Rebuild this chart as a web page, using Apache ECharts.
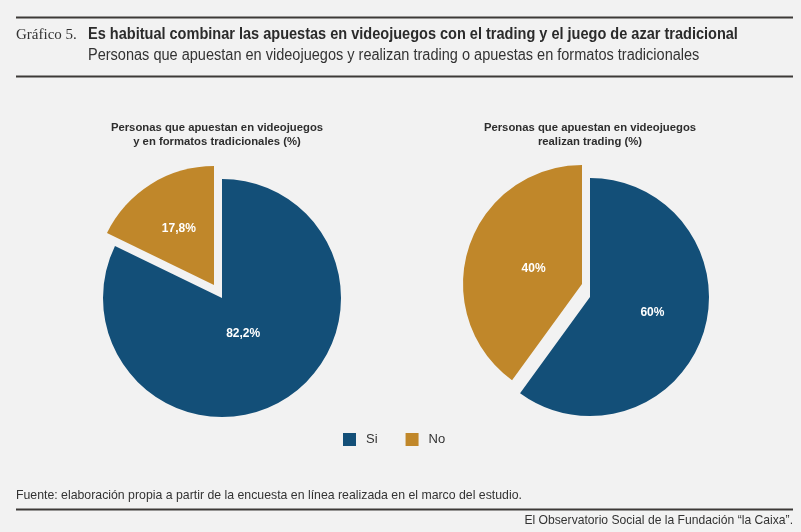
<!DOCTYPE html>
<html>
<head>
<meta charset="utf-8">
<script src="https://cdn.jsdelivr.net/npm/echarts@6/dist/echarts.min.js"></script>
<style>
html,body{margin:0;padding:0;background:#f2f2f2;}
#chart{width:801px;height:532px;}
</style>
</head>
<body>
<div id="chart"></div>
<script>
// ---- data ----
const categories = ['Si', 'No'];
const tradicionales = [82.2, 17.8];
const trading = [60, 40];
const pieTitles = [
  'Personas que apuestan en videojuegos\ny en formatos tradicionales (%)',
  'Personas que apuestan en videojuegos\nrealizan trading (%)'
];
const chartLabel = 'Gráfico 5.';
const chartTitle = 'Es habitual combinar las apuestas en videojuegos con el trading y el juego de azar tradicional';
const chartSubtitle = 'Personas que apuestan en videojuegos y realizan trading o apuestas en formatos tradicionales';
const sourceText = 'Fuente: elaboración propia a partir de la encuesta en línea realizada en el marco del estudio.';
const creditText = 'El Observatorio Social de la Fundación “la Caixa”.';

// ---- style ----
const COLORS = ['#134f78', '#c0872a'];
const SANS = '"Liberation Sans", Arial, sans-serif';
const R = 119;
const EXPLODE = [-8, -13];
// label nudges (style only) per pie per slice
const labelNudge = [
  [[-12, -17], [-2, -3]],
  [[3, -4], [11, 4]]
];

const fmt = v => String(v).replace('.', ',') + '%';

function pieSeries(values, center, pieIdx) {
  const out = [];
  // one layer per slice so the exploded slice is shifted as a whole
  categories.forEach((cat, k) => {
    const c = k === 0 ? center : [center[0] + EXPLODE[0], center[1] + EXPLODE[1]];
    out.push({
      type: 'pie',
      silent: true,
      radius: [0, R],
      center: c,
      startAngle: 90,
      clockwise: true,
      avoidLabelOverlap: false,
      labelLine: { show: false },
      data: categories.map((name, j) => ({
        name: name,
        value: values[j],
        itemStyle: { color: j === k ? COLORS[j] : 'rgba(0,0,0,0)' },
        label: j === k ? {
          show: true,
          position: 'inside',
          offset: labelNudge[pieIdx][j],
          formatter: p => fmt(p.value),
          color: '#ffffff',
          fontFamily: SANS,
          fontWeight: 'bold',
          fontSize: 12
        } : { show: false }
      }))
    });
  });
  return out;
}

const chart = echarts.init(document.getElementById('chart'), null, { renderer: 'canvas' });
const pieTitleStyle = { fontFamily: SANS, fontWeight: 'bold', fontSize: 11.3, color: '#2e2e2e', lineHeight: 14, align: 'center' };
chart.setOption({
  backgroundColor: '#f2f2f2',
  animation: false,
  title: [
    { text: pieTitles[0], left: 212, top: 116, textAlign: 'center', textStyle: pieTitleStyle },
    { text: pieTitles[1], left: 585, top: 116, textAlign: 'center', textStyle: pieTitleStyle }
  ],
  legend: {
    left: 338, top: 428,
    itemWidth: 13, itemHeight: 13, itemGap: 28,
    selectedMode: false,
    textStyle: { fontFamily: SANS, fontSize: 13, color: '#333333', padding: [0, 0, 0, 5] },
    data: categories.map((n, i) => ({ name: n, icon: 'rect', itemStyle: { color: COLORS[i] } }))
  },
  series: [
    ...pieSeries(tradicionales, [222, 298], 0),
    ...pieSeries(trading, [590, 297], 1)
  ],
  graphic: [
    { type: 'rect', shape: { x: 16, y: 16.5, width: 777, height: 2 }, style: { fill: '#3d3a38' } },
    { type: 'rect', shape: { x: 16, y: 75.5, width: 777, height: 2 }, style: { fill: '#3d3a38' } },
    { type: 'text', x: 16, y: 35, style: { text: chartLabel, font: '15px "Liberation Serif", serif', fill: '#333333', textVerticalAlign: 'middle' } },
    { type: 'text', x: 88, y: 35, scaleX: 0.908, style: { text: chartTitle, font: 'bold 16px ' + SANS, fill: '#2b2b2b', textVerticalAlign: 'middle' } },
    { type: 'text', x: 88, y: 56, scaleX: 0.908, style: { text: chartSubtitle, font: '16px ' + SANS, fill: '#333333', textVerticalAlign: 'middle' } },
    { type: 'text', x: 16, y: 495, scaleX: 0.946, style: { text: sourceText, font: '13px ' + SANS, fill: '#333333', textVerticalAlign: 'middle' } },
    { type: 'rect', shape: { x: 16, y: 508.5, width: 777, height: 2 }, style: { fill: '#3d3a38' } },
    { type: 'text', x: 793, y: 520, scaleX: 0.934, style: { text: creditText, font: '13px ' + SANS, fill: '#333333', textAlign: 'right', textVerticalAlign: 'middle' } }
  ]
});
</script>
</body>
</html>
